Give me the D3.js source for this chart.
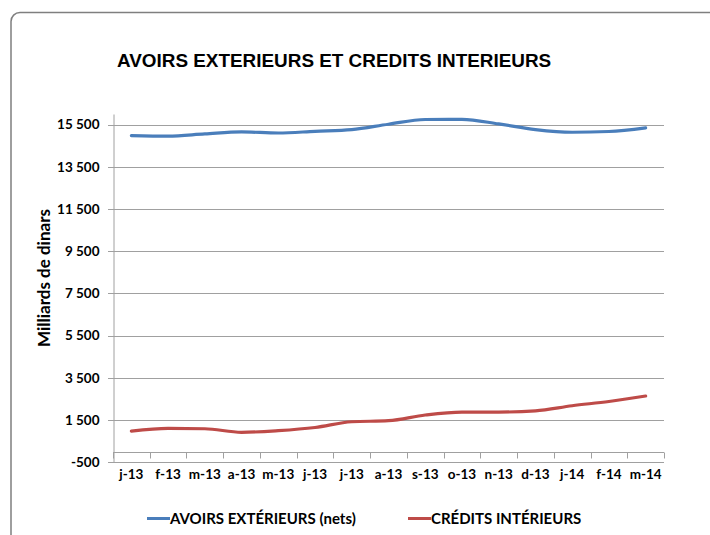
<!DOCTYPE html>
<html><head><meta charset="utf-8">
<script src="https://cdn.jsdelivr.net/npm/d3@7"></script>
<style>body{margin:0;background:#fff}svg{display:block}</style>
</head><body>
<svg id="c" width="710" height="535"></svg>
<script>
const categories = ["j-13","f-13","m-13","a-13","m-13","j-13","j-13","a-13","s-13","o-13","n-13","d-13","j-14","f-14","m-14"];
const avoirs = [14980,14950,15055,15150,15100,15180,15260,15515,15740,15750,15530,15260,15135,15170,15340];
const credits = [980,1105,1090,920,1000,1150,1420,1470,1740,1880,1880,1940,2180,2380,2640];
const yTicks = [-500,1500,3500,5500,7500,9500,11500,13500,15500];
const seriesNames = ["AVOIRS EXTÉRIEURS (nets)","CRÉDITS INTÉRIEURS"];
const colors = ["#4A7EBB","#BE4B48"];
const title = "AVOIRS EXTERIEURS ET CREDITS INTERIEURS";
const yLabel = "Milliards de dinars";

const svg = d3.select("#c");
const font = "Lato, 'Open Sans', sans-serif";

svg.append("rect").attr("x",11).attr("y",12.5).attr("width",730).attr("height",560)
  .attr("rx",9).attr("fill","#fff").attr("stroke","#7f7f7f").attr("stroke-width",1.5);

svg.append("text").attr("x",117).attr("y",67).text(title)
  .attr("font-family","'Liberation Sans', Arial, sans-serif").attr("font-weight","bold")
  .attr("font-size",18.9).attr("fill","#000");

const L=113, R=664, T=114, B=462.3;
const x = d3.scaleBand().domain(d3.range(categories.length)).range([L,R]);
const y = d3.scaleLinear().domain([-500,16000]).range([B,T]);

// gridlines
svg.append("g").selectAll("line").data(yTicks).join("line")
  .attr("x1",L-5).attr("x2",R).attr("y1",d=>Math.round(y(d))+0.5).attr("y2",d=>Math.round(y(d))+0.5)
  .attr("stroke","#a0a0a0").attr("stroke-width",1);

// y axis
const fmt = d => (d<0?"-":"") + d3.format(",")(Math.abs(d)).replace(/,/g," ");
const yAxis = d3.axisLeft(y).tickValues(yTicks).tickSize(0).tickPadding(14).tickFormat(fmt);
const gy = svg.append("g").attr("transform",`translate(${L+0.5},0)`).call(yAxis);
gy.select(".domain").attr("stroke","#a0a0a0");
gy.selectAll("text").attr("font-family",font).attr("font-weight","bold").attr("font-size",13.5).attr("fill","#000");

// x axis at 0
const y0 = Math.round(y(0))+0.5;
svg.append("line").attr("x1",L).attr("x2",R).attr("y1",y0).attr("y2",y0).attr("stroke","#a0a0a0");
const bounds = d3.range(categories.length+1).map(i=> i<categories.length ? x(i) : R);
svg.append("g").selectAll("line").data(bounds).join("line")
  .attr("x1",d=>Math.round(d)+0.5).attr("x2",d=>Math.round(d)+0.5).attr("y1",y0).attr("y2",y0+6)
  .attr("stroke","#a0a0a0");
svg.append("g").selectAll("text").data(categories).join("text")
  .attr("x",(d,i)=>x(i)+x.bandwidth()/2).attr("y",479).attr("text-anchor","middle")
  .attr("font-family",font).attr("font-weight","bold").attr("font-size",13.5).text(d=>d);

// y label
svg.append("text").attr("transform","translate(50,278) rotate(-90)").attr("text-anchor","middle")
  .attr("font-family",font).attr("font-weight","bold").attr("font-size",17).text(yLabel);

// lines
const line = d3.line().x((d,i)=>x(i)+x.bandwidth()/2).y(d=>y(d)).curve(d3.curveMonotoneX);
[avoirs,credits].forEach((s,k)=>{
  svg.append("path").attr("d",line(s)).attr("fill","none").attr("stroke",colors[k])
    .attr("stroke-width",3.2).attr("stroke-linecap","round");
});

// legend
const legX = [147,408];
seriesNames.forEach((n,k)=>{
  svg.append("line").attr("x1",legX[k]).attr("x2",legX[k]+23).attr("y1",518.5).attr("y2",518.5)
    .attr("stroke",colors[k]).attr("stroke-width",3);
  svg.append("text").attr("x",legX[k]+23).attr("y",524).attr("font-family",font)
    .attr("font-weight","bold").attr("font-size",15).text(n);
});
</script>
</body></html>
